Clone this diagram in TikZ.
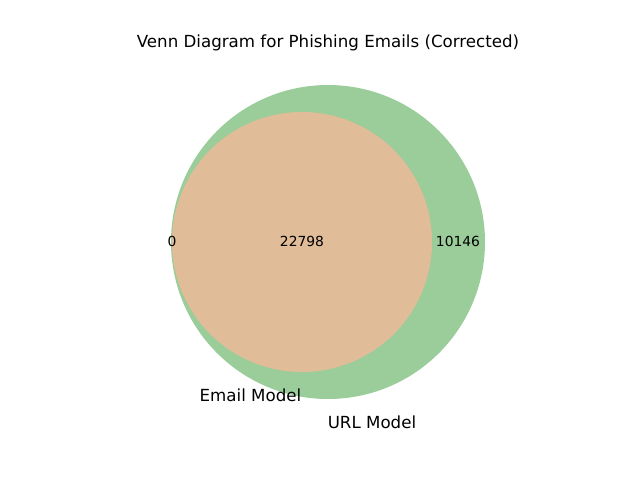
\documentclass[tikz,border=0pt]{standalone}
\usepackage{fontspec}
\setmainfont{DejaVu Sans}
\definecolor{urlgreen}{RGB}{154,205,153}
\definecolor{emailtan}{RGB}{224,188,152}
\begin{document}
\begin{tikzpicture}[x=0.75pt,y=-0.75pt,
  lbl/.style={font=\fontsize{10.4}{12}\selectfont, inner sep=0pt, anchor=center},
  setlbl/.style={font=\fontsize{12.5}{15}\selectfont, inner sep=0pt, anchor=center}]
\useasboundingbox (0,0) rectangle (640,480);
\fill[urlgreen] (328,242) circle (157);
\fill[emailtan] (302,242) circle (130);
\node[setlbl] (title) at (328,43) {Venn Diagram for Phishing Emails (Corrected)};
\node[lbl] (a) at (172,241.5) {0};
\node[lbl] (ab) at (302,241.5) {22798};
\node[lbl] (b) at (458,241.5) {10146};
\node[setlbl] (ea) at (250.5,395) {Email Model};
\node[setlbl] (ub) at (372,422) {URL Model};
\end{tikzpicture}
\end{document}
